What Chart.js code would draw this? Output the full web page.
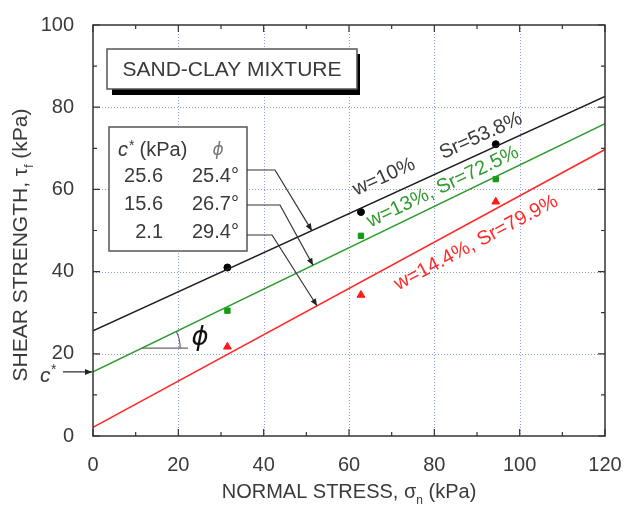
<!DOCTYPE html>
<html><head><meta charset="utf-8">
<script src="https://cdn.jsdelivr.net/npm/chart.js@4.4.1/dist/chart.umd.min.js"></script>
<style>html,body{margin:0;padding:0;background:#fff}#wrap{width:624px;height:509px}</style>
</head><body><div id="wrap"><canvas id="c" width="624" height="509"></canvas></div>
<script>
// ---------- data ----------
const xMajorTicks = [0, 20, 40, 60, 80, 100, 120];
const yMajorTicks = [0, 20, 40, 60, 80, 100];
const normalStress = [31.5, 62.8, 94.4];
const tau_w10 = [41.0, 54.5, 71.0];
const tau_w13 = [30.5, 48.7, 62.5];
const tau_w144 = [21.7, 34.3, 57.0];
const fitX = [0, 120];
const fit_w10 = [25.6, 82.6];
const fit_w13 = [15.6, 76.0];
const fit_w144 = [2.1, 69.7];
const cohesion = ['25.6', '15.6', '2.1'];
const frictionAngle = ['25.4°', '26.7°', '29.4°'];
const seriesLabels = ['w=10%', 'Sr=53.8%', 'w=13%, Sr=72.5%', 'w=14.4%, Sr=79.9%'];

const BLACK = '#1e1e1e', GREEN = '#2f9a2f', RED = '#ff2b2b', TXT = '#3a3a3a';
const FONT = '"Liberation Sans", Arial, sans-serif';

const pts = (xs, ys) => xs.map((x, i) => ({x, y: ys[i]}));

function drawRich(ctx, segs, x, y) {
  let w = 0;
  segs.forEach(s => { ctx.font = (s.style || '') + ' ' + s.size + 'px ' + FONT; s.w = ctx.measureText(s.t).width; w += s.w; });
  let cx = x - w / 2;
  ctx.textBaseline = 'alphabetic'; ctx.textAlign = 'left';
  segs.forEach(s => { ctx.font = (s.style || '') + ' ' + s.size + 'px ' + FONT; ctx.fillText(s.t, cx, y + (s.dy || 0)); cx += s.w; });
}
function arrow(ctx, pts, head) {
  ctx.beginPath(); ctx.moveTo(pts[0][0], pts[0][1]);
  for (let i = 1; i < pts.length; i++) ctx.lineTo(pts[i][0], pts[i][1]);
  ctx.stroke();
  const [x1, y1] = pts[pts.length - 2], [x2, y2] = pts[pts.length - 1];
  const a = Math.atan2(y2 - y1, x2 - x1), L = head || 7, W = 3;
  ctx.beginPath();
  ctx.moveTo(x2, y2);
  ctx.lineTo(x2 - L * Math.cos(a) + W * Math.sin(a), y2 - L * Math.sin(a) - W * Math.cos(a));
  ctx.lineTo(x2 - L * Math.cos(a) - W * Math.sin(a), y2 - L * Math.sin(a) + W * Math.cos(a));
  ctx.closePath(); ctx.fill();
}

const decor = {
  id: 'decor',
  beforeDatasetsDraw(chart) {
    const {ctx, chartArea: a, scales: {x, y}} = chart;
    ctx.save();
    ctx.strokeStyle = '#8f9be6'; ctx.lineWidth = 1; ctx.setLineDash([1, 2]);
    xMajorTicks.slice(1, -1).forEach(v => { const p = Math.round(x.getPixelForValue(v)) + 0.5; ctx.beginPath(); ctx.moveTo(p, a.top); ctx.lineTo(p, a.bottom); ctx.stroke(); });
    yMajorTicks.slice(1, -1).forEach(v => { const p = Math.round(y.getPixelForValue(v)) + 0.5; ctx.beginPath(); ctx.moveTo(a.left, p); ctx.lineTo(a.right, p); ctx.stroke(); });
    ctx.restore();
  },
  afterDatasetsDraw(chart) {
    const {ctx, chartArea: a, scales: {x, y}} = chart;
    ctx.save();
    // frame + inward ticks
    ctx.strokeStyle = '#333'; ctx.lineWidth = 1.5;
    ctx.strokeRect(a.left, a.top, a.right - a.left, a.bottom - a.top);
    ctx.lineWidth = 1.2;
    for (let v = 0; v <= 120; v += 10) {
      const p = x.getPixelForValue(v), L = v % 20 === 0 ? 7 : 4;
      ctx.beginPath(); ctx.moveTo(p, a.bottom); ctx.lineTo(p, a.bottom - L); ctx.moveTo(p, a.top); ctx.lineTo(p, a.top + L); ctx.stroke();
    }
    for (let v = 0; v <= 100; v += 10) {
      const p = y.getPixelForValue(v), L = v % 20 === 0 ? 7 : 4;
      ctx.beginPath(); ctx.moveTo(a.left, p); ctx.lineTo(a.left + L, p); ctx.moveTo(a.right, p); ctx.lineTo(a.right - L, p); ctx.stroke();
    }
    // axis titles
    ctx.fillStyle = TXT;
    drawRich(ctx, [{t: 'NORMAL STRESS, ', size: 20}, {t: 'σ', size: 20}, {t: 'n', size: 12, dy: 6}, {t: ' (kPa)', size: 20}], (a.left + a.right) / 2, 498);
    ctx.save(); ctx.translate(27, 245); ctx.rotate(-Math.PI / 2);
    drawRich(ctx, [{t: 'SHEAR STRENGTH, ', size: 21}, {t: 'τ', size: 21}, {t: 'f', size: 12, dy: 6}, {t: ' (kPa)', size: 21}], 0, 0);
    ctx.restore();

    // SAND-CLAY box
    ctx.fillStyle = '#000';
    ctx.fillRect(112, 89, 248, 6); ctx.fillRect(357, 54, 3, 41);
    ctx.fillStyle = '#fff'; ctx.fillRect(107, 49, 250, 40);
    ctx.strokeStyle = '#555'; ctx.lineWidth = 1.5; ctx.strokeRect(107, 49, 250, 40);
    ctx.fillStyle = TXT; ctx.font = '21px ' + FONT; ctx.textAlign = 'center'; ctx.textBaseline = 'middle';
    ctx.fillText('SAND-CLAY MIXTURE', 232, 70);

    // table box
    ctx.fillStyle = '#fff'; ctx.fillRect(109, 127, 138, 124);
    ctx.strokeStyle = '#555'; ctx.strokeRect(109, 127, 138, 124);
    ctx.fillStyle = TXT; ctx.textBaseline = 'alphabetic'; ctx.textAlign = 'left';
    ctx.font = 'italic 20px ' + FONT; ctx.fillText('c', 118, 156);
    ctx.font = '14px ' + FONT; ctx.fillText('*', 129, 150);
    ctx.font = '20px ' + FONT; ctx.fillText(' (kPa)', 134, 156);
    ctx.font = 'italic 17px "DejaVu Sans", sans-serif'; ctx.fillStyle = '#777'; ctx.textAlign = 'center'; ctx.fillText('ϕ', 218, 155);
    ctx.fillStyle = TXT; ctx.font = '20px ' + FONT;
    const rowsY = [182, 210, 238];
    cohesion.forEach((c, i) => { ctx.textAlign = 'right'; ctx.fillText(c, 163, rowsY[i]); ctx.textAlign = 'left'; ctx.fillText(frictionAngle[i], 192, rowsY[i]); });

    // leader arrows (tips sit on the fitted lines)
    ctx.strokeStyle = '#333'; ctx.fillStyle = '#222'; ctx.lineWidth = 1.2;
    const tips = [[51.3, 49.96], [51.56, 41.53], [52.5, 31.68]];
    const starts = [[170, 275], [205, 280], [235, 272]];
    tips.forEach((t, i) => {
      arrow(ctx, [[247, starts[i][0]], [starts[i][1], starts[i][0]], [x.getPixelForValue(t[0]), y.getPixelForValue(t[1])]], 7);
    });

    // rotated series labels
    const lab = (txt, col, dx, dy, ang) => {
      ctx.save(); ctx.translate(x.getPixelForValue(dx), y.getPixelForValue(dy)); ctx.rotate(-ang * Math.PI / 180);
      ctx.fillStyle = col; ctx.font = '20px ' + FONT; ctx.textAlign = 'center'; ctx.textBaseline = 'middle';
      ctx.fillText(txt, 0, 0); ctx.restore();
    };
    lab(seriesLabels[0], TXT, 68.2, 63.0, 24.5);
    lab(seriesLabels[1], TXT, 90.9, 73.0, 24.5);
    lab(seriesLabels[2], GREEN, 82.0, 60.6, 25.5);
    lab(seriesLabels[3], RED, 89.8, 47.0, 28);

    // phi angle marker on green line
    const gx0 = x.getPixelForValue(11.53), gy0 = y.getPixelForValue(21.4);
    const gx1 = x.getPixelForValue(120), gy1 = y.getPixelForValue(76.0);
    const ang = Math.atan2(gy0 - gy1, gx1 - gx0);
    ctx.strokeStyle = '#666'; ctx.lineWidth = 1.2;
    ctx.beginPath(); ctx.moveTo(gx0, gy0); ctx.lineTo(188, gy0); ctx.stroke();
    ctx.beginPath(); ctx.arc(gx0, gy0, 38, -ang, 0); ctx.stroke();
    ctx.fillStyle = '#111'; ctx.font = 'italic 26px "DejaVu Sans", sans-serif'; ctx.textAlign = 'center'; ctx.textBaseline = 'middle';
    ctx.fillText('ϕ', 200, 338);

    // c* arrow
    ctx.strokeStyle = '#222'; ctx.fillStyle = '#222'; ctx.lineWidth = 1.2;
    const cy = y.getPixelForValue(15.6);
    arrow(ctx, [[63, cy], [a.left - 1, cy]], 7);
    ctx.fillStyle = TXT; ctx.font = 'italic 21px ' + FONT; ctx.textAlign = 'left'; ctx.textBaseline = 'alphabetic';
    ctx.fillText('c', 40, cy + 10);
    ctx.font = '14px ' + FONT; ctx.fillText('*', 51, cy + 2);
    ctx.restore();
  }
};

new Chart(document.getElementById('c'), {
  type: 'scatter',
  data: {
    datasets: [
      {data: pts(fitX, fit_w10), showLine: true, borderColor: BLACK, borderWidth: 1.5, pointRadius: 0},
      {data: pts(fitX, fit_w13), showLine: true, borderColor: GREEN, borderWidth: 1.5, pointRadius: 0},
      {data: pts(fitX, fit_w144), showLine: true, borderColor: RED, borderWidth: 1.5, pointRadius: 0},
      {data: pts(normalStress, tau_w10), pointStyle: 'circle', pointRadius: 3.5, backgroundColor: '#000', borderColor: '#000'},
      {data: pts(normalStress, tau_w13), pointStyle: 'rect', pointRadius: 3.8, backgroundColor: '#139a13', borderColor: '#139a13'},
      {data: pts(normalStress, tau_w144), pointStyle: 'triangle', pointRadius: 4.5, backgroundColor: '#ff1a1a', borderColor: '#ff1a1a'}
    ]
  },
  options: {
    responsive: false, animation: false, devicePixelRatio: 1,
    layout: {padding: {top: 25, right: 19, left: 0, bottom: 0}},
    plugins: {legend: {display: false}, tooltip: {enabled: false}},
    scales: {
      x: {type: 'linear', min: 0, max: 120,
        afterBuildTicks: s => { s.ticks = xMajorTicks.map(v => ({value: v})); },
        afterFit: s => { s.height = 73; s.paddingLeft = 0; s.paddingRight = 0; },
        grid: {display: false}, border: {display: false},
        ticks: {font: {size: 20, family: FONT}, color: TXT, padding: 9, maxRotation: 0}},
      y: {type: 'linear', min: 0, max: 100,
        afterBuildTicks: s => { s.ticks = yMajorTicks.map(v => ({value: v})); },
        afterFit: s => { s.width = 93; s.paddingTop = 0; s.paddingBottom = 0; },
        grid: {display: false}, border: {display: false},
        ticks: {font: {size: 20, family: FONT}, color: TXT, padding: 11}}
    }
  },
  plugins: [decor]
});
</script></body></html>
